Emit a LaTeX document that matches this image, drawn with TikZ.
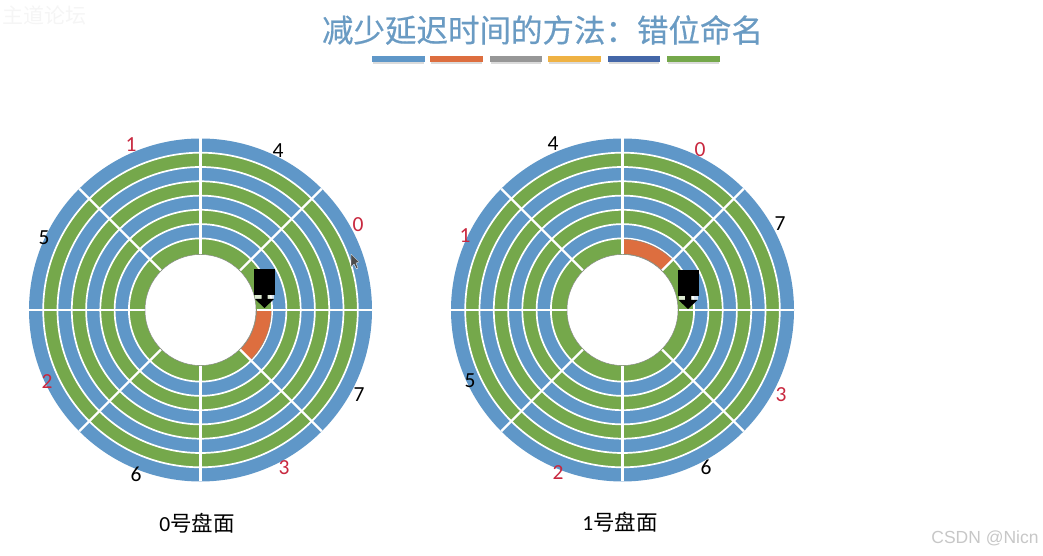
\documentclass[tikz,border=0pt]{standalone}
\usepackage{fontspec}
\setmainfont{Carlito}
\newfontfamily\cjk{Noto Sans CJK SC}
\newfontfamily\cjktitle[FakeBold=0.5]{Noto Sans CJK SC}
\newfontfamily\marksans{Liberation Sans}
\definecolor{diskblue}{HTML}{5F97C8}
\definecolor{diskgreen}{HTML}{75A84B}
\definecolor{sectorred}{HTML}{DD6E3F}
\definecolor{labelred}{HTML}{C8283F}
\definecolor{titleblue}{HTML}{6A9BC3}
\definecolor{stripgray}{HTML}{979797}
\definecolor{stripyellow}{HTML}{EFB244}
\definecolor{stripblue}{HTML}{4467A8}

\begin{document}
\begin{tikzpicture}[x=1pt,y=1pt,line join=round,
  sectorline/.style={white,line width=2.2pt},
  ringline/.style={white,line width=1.7pt},
  worksector/.style={fill=sectorred,draw=black!45,line width=.35pt},
  bar/.style={line width=5.2pt},
  barshade/.style={black!14,line width=2.5pt},
  numlabel/.style={font=\fontsize{21.5}{23}\selectfont},
  caption/.style={font=\fontsize{21.5}{25}\selectfont}]
\useasboundingbox (0,0) rectangle (1043,556);

\node[font=\cjktitle\fontsize{31.5}{34}\selectfont,text=titleblue] (title) at (542.5,526) {减少延迟时间的方法：错位命名};
\node[font=\cjk\fontsize{21}{23}\selectfont,text=black!4] (forum) at (44,541) {主道论坛};

% Colour strip under the title.
\foreach \c/\xa/\xb in {diskblue/372/425,sectorred/430/483,stripgray/490/542,
  stripyellow/548/601,stripblue/608/660,diskgreen/667/720}
{
  \draw[barshade] (\xa+1,493.5) -- (\xb-1,493.5);
  \draw[bar,\c] (\xa,497) -- (\xb,497);
}

% Two platters of eight tracks each.
\foreach \cx/\from/\to in {200.5/-45/0,622.5/45/90}
{
  \begin{scope}[shift={(\cx,246)}]
  \foreach \r/\col in {171.5/diskblue,157.3/diskgreen,143/diskblue,128.7/diskgreen,
    114.4/diskblue,100.2/diskgreen,85.9/diskblue,71.6/diskgreen}
  {
    \fill[\col] (0,0) circle (\r);
    \ifdim\r pt<171pt \draw[ringline] (0,0) circle (\r); \fi
  }
  \draw[worksector] (\from:56) arc (\from:\to:56) -- (\to:70.8) arc (\to:\from:70.8) -- cycle;
  \foreach \a in {0,45,...,315}
    \draw[sectorline] (\a:56) -- (\a:171.5);
  \fill[white,draw=black!50,line width=.4pt] (0,0) circle (55.5);
  \end{scope}
}

% Sector numbers, platter 0 and platter 1.
\foreach \n/\t/\x/\y/\col in {a1/1/131/145/labelred,a4/4/278/151/black,a0/0/358/225/labelred,
  a5/5/44/238/black,a2/2/47/382/labelred,a7/7/359/395/black,a6/6/136/474/black,a3/3/284/468/labelred,
  b4/4/553/144/black,b0/0/700/150/labelred,b7/7/780/224/black,b1/1/465/236/labelred,
  b5/5/470/381/black,b3/3/781/395/labelred,b2/2/558/473/labelred,b6/6/706/467/black}
{
  \pgfmathsetmacro{\yy}{556-\y}
  \node[numlabel,text=\col] (\n) at (\x,\yy) {\t};
}

\node[caption] (cap0) at (197,33) {0{\cjk 号盘面}};
\node[caption] (cap1) at (620,34) {1{\cjk 号盘面}};

% Read heads.
\foreach \hx/\hy in {264.5/248,688/247}
{
  \fill[white,opacity=.75] (\hx-9.5,\hy+9) rectangle (\hx+9.5,\hy+13);
  \fill[black] (\hx-10.5,\hy+39) rectangle (\hx+10.5,\hy+13);
  \fill[black] (\hx-3,\hy+13) -- (\hx+3,\hy+13) -- (\hx+3,\hy+9) -- (\hx+9.5,\hy+9)
    -- (\hx,\hy) -- (\hx-9.5,\hy+9) -- (\hx-3,\hy+9) -- cycle;
}

\fill[black!70,draw=white,line width=.3pt] (351,302) -- (351,289) -- (354,292) -- (356.5,287) -- (358,288) -- (356,293) -- (359,294) -- cycle;

\node[font=\marksans\fontsize{17.5}{20}\selectfont,text=black!22] (mark) at (985,18) {CSDN @Nicn};
\end{tikzpicture}
\end{document}
